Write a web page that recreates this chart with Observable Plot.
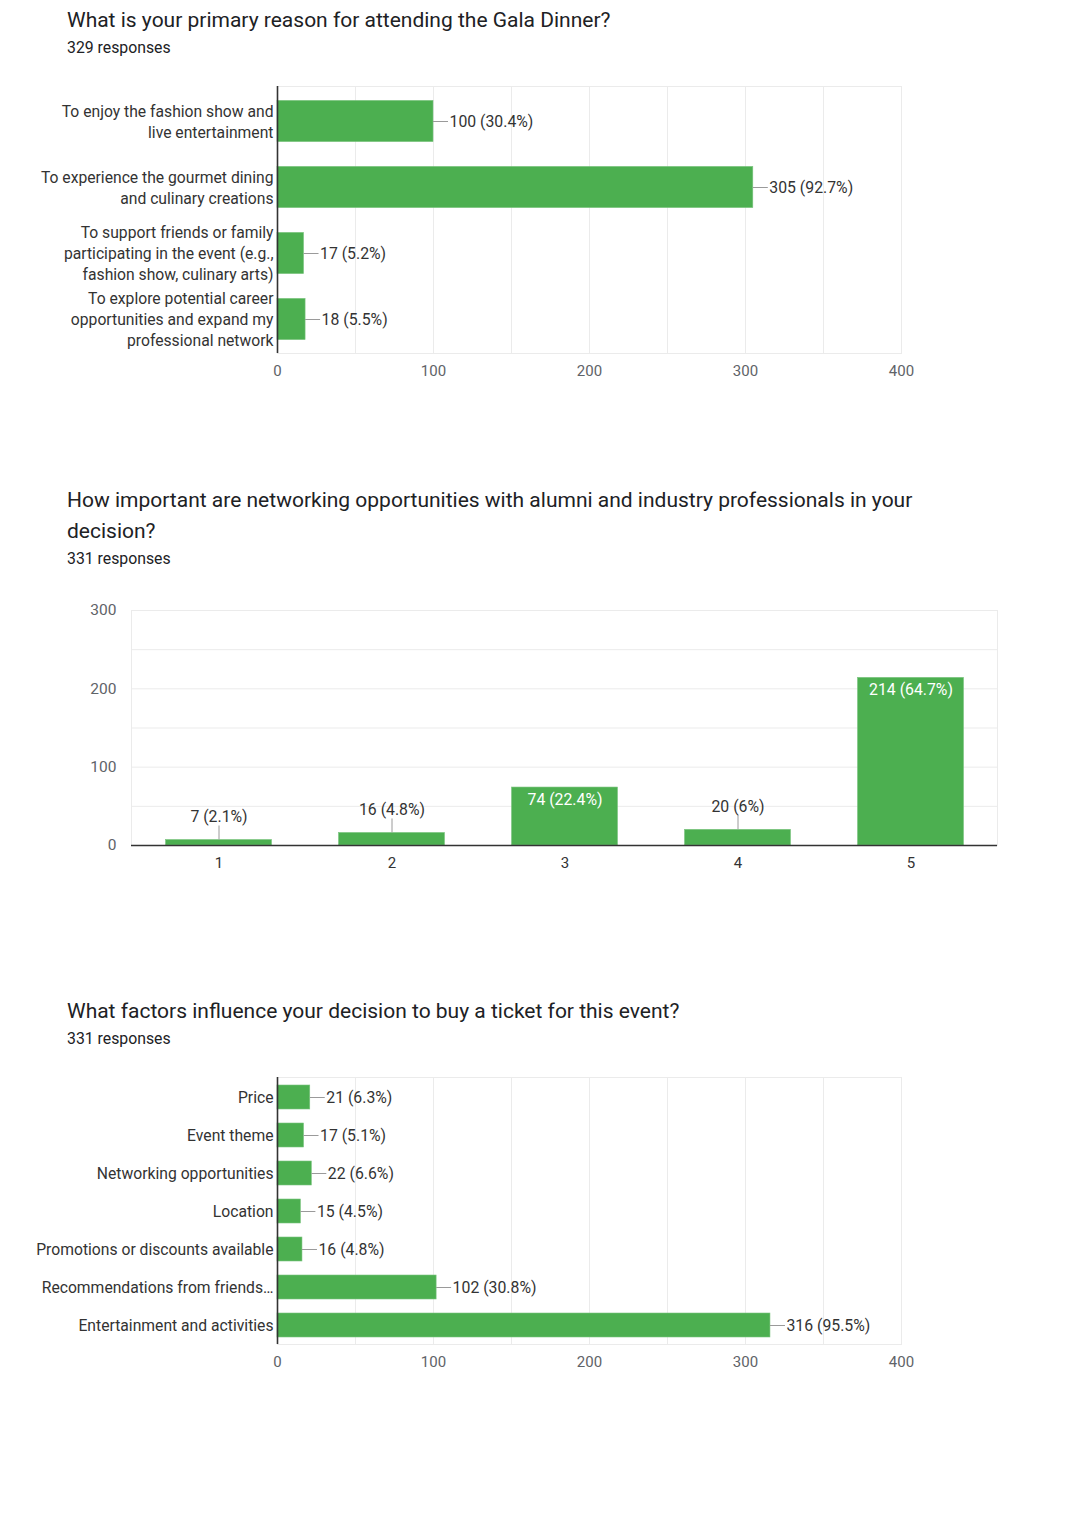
<!DOCTYPE html>
<html>
<head>
<meta charset="utf-8">
<script src="https://cdn.jsdelivr.net/npm/d3@7"></script>
<script src="https://cdn.jsdelivr.net/npm/@observablehq/plot@0.6"></script>
<style>
  html, body { margin: 0; padding: 0; background: #fff; }
  body { width: 1092px; height: 1536px; position: relative; font-family: Roboto, "Noto Sans", sans-serif; overflow: hidden; }
  .title { position: absolute; left: 67px; font-size: 21px; line-height: 31px; color: #202124; white-space: nowrap; }
  .sub { position: absolute; left: 67px; font-size: 15.8px; line-height: 20px; color: #202124; }
  .chart { position: absolute; left: 0; }
  .chart svg { display: block; }
</style>
</head>
<body>
<div class="title" style="top:4.5px">What is your primary reason for attending the Gala Dinner?</div>
<div class="sub" style="top:38px">329 responses</div>
<div class="chart" id="c1" style="top:60px"></div>

<div class="title" style="top:484.5px">How important are networking opportunities with alumni and industry professionals in your<br>decision?</div>
<div class="sub" style="top:549px">331 responses</div>
<div class="chart" id="c2" style="top:595px"></div>

<div class="title" style="top:995.5px">What factors influence your decision to buy a ticket for this event?</div>
<div class="sub" style="top:1029px">331 responses</div>
<div class="chart" id="c3" style="top:1060px"></div>

<script>
// ---- Chart 1 data ----
const q1Categories = [
  "To enjoy the fashion show and\nlive entertainment",
  "To experience the gourmet dining\nand culinary creations",
  "To support friends or family\nparticipating in the event (e.g.,\nfashion show, culinary arts)",
  "To explore potential career\nopportunities and expand my\nprofessional network"
];
const q1Counts = [100, 305, 17, 18];
const q1Percents = ["30.4%", "92.7%", "5.2%", "5.5%"];

// ---- Chart 2 data ----
const q2Categories = ["1", "2", "3", "4", "5"];
const q2Counts = [7, 16, 74, 20, 214];
const q2Percents = ["2.1%", "4.8%", "22.4%", "6%", "64.7%"];

// ---- Chart 3 data ----
const q3Categories = [
  "Price",
  "Event theme",
  "Networking opportunities",
  "Location",
  "Promotions or discounts available",
  "Recommendations from friends…",
  "Entertainment and activities"
];
const q3Counts = [21, 17, 22, 15, 16, 102, 316];
const q3Percents = ["6.3%", "5.1%", "6.6%", "4.5%", "4.8%", "30.8%", "95.5%"];

// ---- Tick labels ----
const hTicks = [0, 100, 200, 300, 400];
const hGrid = [0, 50, 100, 150, 200, 250, 300, 350, 400];
const vTicks = [0, 100, 200, 300];
const vGrid = [0, 50, 100, 150, 200, 250, 300];

const GREEN = "#4caf50";
const GRID = "#ebebeb";
const font = {fontFamily: "Roboto, 'Noto Sans', sans-serif", background: "transparent", overflow: "visible"};

function horizontalChart(cats, counts, pcts, opts) {
  const data = cats.map((c, i) => ({cat: c, count: counts[i], pct: pcts[i]}));
  const plotW = 1092 - opts.marginLeft - opts.marginRight;
  const leader = 15 / (plotW / 400); // 15px expressed in data units
  return Plot.plot({
    width: 1092,
    height: opts.height,
    marginLeft: opts.marginLeft,
    marginRight: opts.marginRight,
    marginTop: opts.marginTop,
    marginBottom: opts.marginBottom,
    style: font,
    x: {domain: [0, 400], label: null},
    y: {domain: cats, padding: 0, label: null},
    marks: [
      Plot.gridX(hGrid, {stroke: GRID, strokeOpacity: 1}),
      Plot.frame({stroke: GRID}),
      Plot.barX(data, {x: "count", y: "cat", fill: GREEN, stroke: "#7bc47f", strokeWidth: 0.6, insetTop: opts.inset, insetBottom: opts.inset}),
      Plot.ruleX([0], {stroke: "#333", strokeWidth: 1.6}),
      Plot.ruleY(data, {y: "cat", x1: "count", x2: d => d.count + leader, stroke: "#9a9a9a"}),
      Plot.text(data, {y: "cat", x: d => d.count + leader, text: d => `${d.count} (${d.pct})`, textAnchor: "start", dx: 1, fontSize: 15.8, fill: "#333"}),
      Plot.axisX({ticks: hTicks, tickSize: 0, tickPadding: 12, fontSize: 15, fill: "#5f6368", label: null}),
      Plot.axisY({tickSize: 0, tickPadding: 4, dy: opts.labelDy, fontSize: 15.7, fill: "#333", lineHeight: 1.34, label: null})
    ]
  });
}

document.getElementById("c1").appendChild(
  horizontalChart(q1Categories, q1Counts, q1Percents,
    {height: 340, marginLeft: 277, marginRight: 191, marginTop: 26, marginBottom: 47, inset: 12.4, labelDy: -1})
);

document.getElementById("c3").appendChild(
  horizontalChart(q3Categories, q3Counts, q3Percents,
    {height: 330, marginLeft: 277, marginRight: 191, marginTop: 17, marginBottom: 46, inset: 7, labelDy: -1.5})
);

// ---- Chart 2 (vertical) ----
(function () {
  const data = q2Categories.map((c, i) => ({cat: c, count: q2Counts[i], pct: q2Percents[i]}));
  const plotH = 845 - 610;
  const leader = 14 / (plotH / 300);
  const outside = data.filter(d => d.count < 50);
  const inside = data.filter(d => d.count >= 50);
  const svg = Plot.plot({
    width: 1092,
    height: 295,
    marginLeft: 131,
    marginRight: 95,
    marginTop: 15,
    marginBottom: 45,
    style: font,
    x: {domain: q2Categories, padding: 0, label: null},
    y: {domain: [0, 300], label: null},
    marks: [
      Plot.gridY(vGrid, {stroke: GRID, strokeOpacity: 1}),
      Plot.frame({stroke: GRID}),
      Plot.barY(data, {x: "cat", y: "count", fill: GREEN, stroke: "#7bc47f", strokeWidth: 0.6, insetLeft: 33.5, insetRight: 33.5}),
      Plot.ruleY([0], {stroke: "#333", strokeWidth: 1.6}),
      Plot.ruleX(outside, {x: "cat", y1: "count", y2: d => d.count + leader, stroke: "#9a9a9a"}),
      Plot.text(outside, {x: "cat", y: d => d.count + leader, text: d => `${d.count} (${d.pct})`, dy: -9, fontSize: 15.8, fill: "#333"}),
      Plot.text(inside, {x: "cat", y: "count", text: d => `${d.count} (${d.pct})`, dy: 12, fontSize: 15.8, fill: "#fff"}),
      Plot.axisX({tickSize: 0, tickPadding: 12, fontSize: 15, fill: "#333", label: null}),
      Plot.axisY({ticks: vTicks, tickSize: 0, tickPadding: 15, fontSize: 15.5, fill: "#5f6368", label: null})
    ]
  });
  document.getElementById("c2").appendChild(svg);
})();
</script>
</body>
</html>
